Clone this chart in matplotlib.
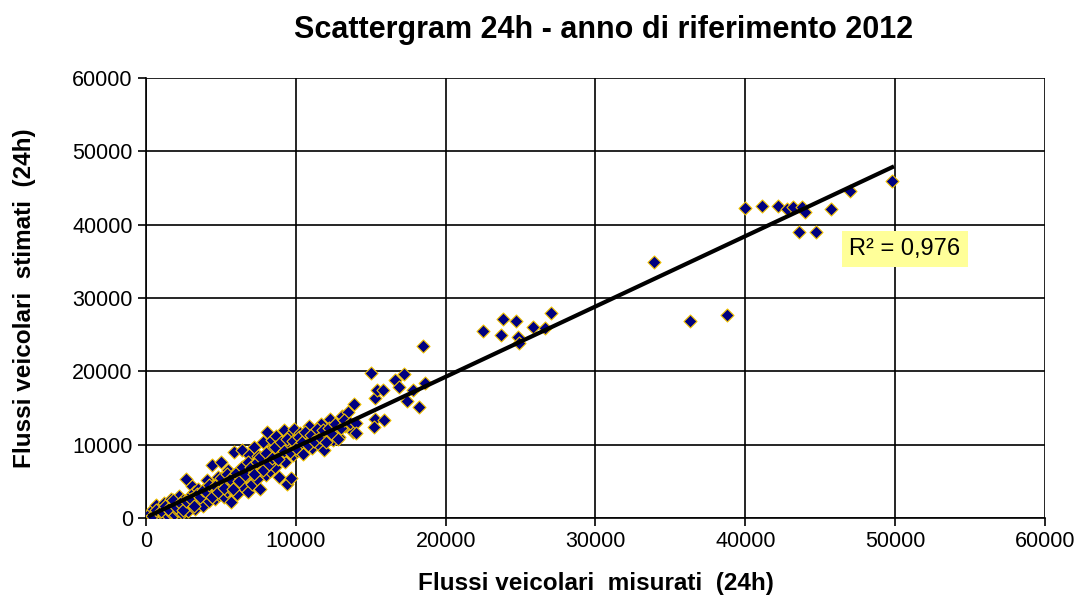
import matplotlib
matplotlib.use("Agg")
import matplotlib.pyplot as plt
import numpy as np

plt.rcParams['font.family'] = ['Liberation Sans', 'DejaVu Sans']

# flussi misurati (x) e stimati (y)
misurati = [300, 500, 600, 700, 800, 900, 1000, 1100, 1200, 1300, 1400, 1500, 1600, 1700,
            1800, 1900, 2000, 2100, 2200, 2300, 2400, 2500, 2600, 2700, 2800, 2900, 3000,
            3100, 3200, 3300, 3400, 3500, 3600, 3700, 3800, 3900, 4000, 4100, 4200, 4300,
            4400, 4500, 4600, 4700, 4800, 4900, 5000, 5100, 5200, 5300, 5400, 5500, 5600,
            5700, 5800, 5900, 6000, 6100, 6200, 6300, 6400, 6500, 6600, 6700, 6800, 6900,
            7000, 7100, 7200, 7300, 7400, 7500, 7600, 7700, 7800, 7900, 8000, 8100, 8200,
            8300, 8400, 8500, 8600, 8700, 8800, 8900, 9000, 9100, 9200, 9300, 9400, 9500,
            9600, 9700, 9800, 9900, 10000, 10100, 10300, 10500, 10700, 10900, 11100, 11300,
            11500, 11700, 11900, 12100, 12300, 12500, 12700, 12900, 13100, 13300, 13500,
            13800, 13900,
            400, 700, 1000, 1300, 1500, 1800, 2000, 2300, 2500, 2700, 3000, 3200, 3400, 3600,
            3800, 4000, 4200, 4400, 4600, 4800, 5000, 5200, 5400, 5600, 5800, 6000, 6200,
            6400, 6600, 6800, 7000, 7200, 7400, 7600, 7800, 8000, 8200, 8400, 8600, 8800,
            9000, 9200, 9400, 9600, 9800, 10000, 10200, 10400, 10600, 10800, 11000, 11200,
            11400, 11600, 11800, 12000, 12200, 12400, 12600, 12800, 13000, 13200, 13600, 14000,
            14000, 15000, 15300, 15400, 15800, 15300, 15900, 15200, 16600, 16900, 17200,
            17400, 17800, 18200, 18600, 18500,
            22500, 23800, 24700, 23700, 24800, 24900, 25800, 26600, 27000,
            33900, 36300, 38800,
            40000, 41100, 42200, 42800, 43200, 43800, 44000, 43600, 44700, 45700, 47000, 49800]

stimati = [700, 1200, 400, 1800, 900, 300, 1500, 600, 2100, 1000, 400, 1700, 800, 2600,
           1300, 500, 2000, 1100, 3000, 1600, 700, 2400, 1400, 5300, 900, 2800, 1900,
           4400, 3500, 1200, 2600, 4000, 2200, 3100, 1700, 3700, 2900, 5200, 2300, 3400,
           7200, 4300, 2600, 3900, 5600, 3100, 7600, 4600, 2800, 5200, 3700, 6500, 4100,
           2200, 5800, 9000, 4800, 3300, 6600, 5300, 9300, 4200, 7200, 5700, 3600, 8600,
           6200, 4700, 9700, 7000, 5300, 8400, 3900, 6700, 10300, 7900, 5800, 11700, 9100,
           6400, 10600, 8300, 7000, 11200, 9600, 5600, 8800, 10200, 12000, 7600, 4600, 9900,
           11300, 5400, 8600, 12200, 10700, 9200, 11600, 8700, 10400, 12500, 9600, 11100,
           10100, 12800, 9300, 11300, 13500, 10600, 12100, 11100, 13900, 12600, 14400,
           11700, 15500,
           300, 1100, 900, 1600, 1200, 2400, 1500, 2100, 1100, 2300, 2600, 1600, 3300, 2900,
           3800, 3600, 4500, 2900, 4400, 3500, 5400, 4100, 6000, 5300, 4000, 6200, 5000,
           6900, 5800, 7700, 6900, 6000, 7700, 8300, 6600, 8900, 7300, 8200, 9700, 8000,
           10300, 9200, 10800, 9000, 10500, 9500, 11100, 10300, 11700, 9900, 11300, 10500,
           12200, 11000, 12000, 10400, 12300, 11500, 12800, 10800, 12300, 13300, 13000, 12900,
           11600, 19800, 16300, 17500, 17400, 13500, 13300, 12400, 18800, 17800, 19600,
           16000, 17500, 15100, 18400, 23400,
           25500, 27200, 26900, 24900, 24700, 23800, 26000, 25900, 27900,
           34900, 26800, 27700,
           42300, 42500, 42500, 42100, 42400, 42400, 41700, 39000, 39000, 42100, 44600, 46000]

r2_text = "R² = 0,976"
x_ticks = [0, 10000, 20000, 30000, 40000, 50000, 60000]
y_ticks = [0, 10000, 20000, 30000, 40000, 50000, 60000]

x = np.array(misurati)
y = np.array(stimati)

fig = plt.figure(figsize=(10.83, 6.04), dpi=100)
ax = fig.add_axes([0.1348, 0.1424, 0.8301, 0.7285])

ax.scatter(x, y, marker='D', s=44, facecolor='#000080', edgecolor='#F2C200',
           linewidth=0.8, zorder=3)

# linea di tendenza lineare
coef = np.polyfit(x, y, 1)
xs = np.array([x.min(), x.max()])
ax.plot(xs, np.polyval(coef, xs), color='black', linewidth=3, zorder=4)

ax.set_xlim(0, 60000)
ax.set_ylim(0, 60000)
ax.set_xticks(x_ticks)
ax.set_yticks(y_ticks)
ax.set_xticklabels([str(v) for v in x_ticks], fontsize=15.5)
ax.set_yticklabels([str(v) for v in y_ticks], fontsize=15.5)
ax.tick_params(direction='out', length=6, width=1.2, color='black')
ax.grid(True, color='black', linewidth=1.2)
ax.set_axisbelow(True)
for side in ['top', 'right']:
    ax.spines[side].set_visible(False)
for side in ['left', 'bottom']:
    ax.spines[side].set_linewidth(1.2)

ax.set_xlabel("Flussi veicolari  misurati  (24h)", fontsize=17.5, fontweight='bold', labelpad=14)
ax.set_ylabel("Flussi veicolari  stimati  (24h)", fontsize=17.5, fontweight='bold', labelpad=26)
fig.text(0.557, 0.95, "Scattergram 24h - anno di riferimento 2012", fontsize=22,
         fontweight='bold', ha='center', va='center')

ax.text(50650, 36700, r2_text, fontsize=17, ha='center', va='center', zorder=5,
        bbox=dict(boxstyle='square,pad=0.3', facecolor='#FFFF99', edgecolor='none'))

fig.savefig("out.png", dpi=100)
